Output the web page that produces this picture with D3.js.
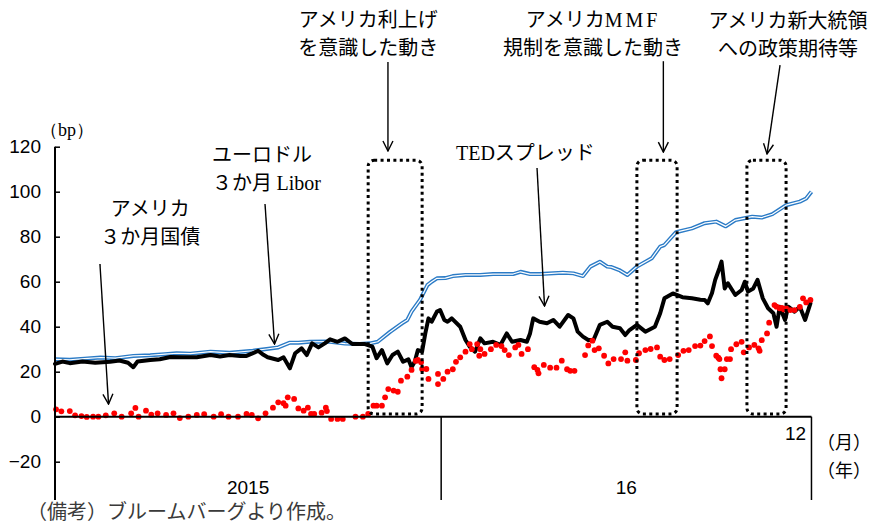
<!DOCTYPE html>
<html><head><meta charset="utf-8">
<script src="https://cdn.jsdelivr.net/npm/d3@7"></script>
<style>
html,body{margin:0;padding:0;background:#fff;}
svg{display:block;}
</style></head>
<body>
<svg id="chart" width="873" height="526"></svg>
<script>
// ---------- DATA (day offsets from 2015-01-01, values in bp) ----------
const liborDays = [0,14,28,43,57,74,90,104,115,128,147,165,187,200,211,222,230,241,258,274,288,298,305,317,328,333,337,345,352,356,361,369,376,388,402,414,425,433,440,449,458,480,490,499,506,515,522,526,534,541,550,564,572,576,587,602,614,625,634,643,659,668,678,691,704,710,715];
const liborValues = [25.5,25.3,25.8,26.3,26.0,27.0,27.3,27.8,28.2,28.0,28.9,28.4,29.3,30.1,30.8,32.9,32.9,33.3,33.4,32.5,32.3,32.6,33.3,37.8,41.5,43.0,46.7,51.9,58.5,60.0,61.5,61.6,62.5,63.0,63.0,63.4,63.4,63.4,64.4,63.4,63.4,64.0,63.7,62.5,66.7,68.9,66.7,66.5,65.0,63.0,66.7,70.4,75.6,76.3,82.0,83.7,86.0,86.7,84.6,87.4,88.9,88.5,90.0,94.0,95.6,97.0,100.0];

const tedDays = [0,7,14,26,38,52,61,69,74,78,90,99,109,121,134,147,156,165,175,181,186,192,197,201,211,216,219,222,227,233,238,243,249,255,260,267,274,281,293,300,304,309,314,319,324,329,334,337,340,343,347,350,353,356,361,364,368,371,375,383,388,392,397,402,406,414,421,427,432,440,446,449,452,458,465,471,477,485,490,494,499,504,509,515,522,527,534,539,543,550,558,567,572,576,584,593,602,610,614,617,621,624,628,630,633,636,643,649,652,655,660,664,669,674,679,682,685,690,693,699,704,709,714];
const tedValues = [23.5,24.5,23.8,24.5,24.0,24.4,25.0,24.0,22.0,24.5,25.2,25.5,26.5,26.4,26.4,27.4,26.8,27.4,27.0,27.0,28.0,29.3,27.5,26.4,25.2,26.4,24.0,21.5,28.2,30.4,27.4,32.6,30.8,32.6,34.4,33.3,34.8,32.3,32.3,31.1,26.0,29.6,23.7,27.4,28.9,24.4,25.5,22.0,24.4,29.6,29.0,37.0,43.7,42.2,46.7,47.4,43.0,42.2,43.7,40.0,34.1,31.1,28.9,34.8,32.6,33.3,31.9,37.0,33.3,34.1,33.3,37.0,43.7,42.2,41.5,43.0,40.0,45.2,43.7,37.8,35.6,34.1,34.1,40.8,42.2,40.0,39.3,36.3,38.5,40.8,37.8,40.0,46.0,52.6,54.8,53.1,52.6,52.0,51.9,50.4,55.0,60.8,66.0,68.9,57.0,59.3,54.1,56.3,60.0,55.6,57.0,60.8,52.6,48.2,46.0,40.0,48.9,43.0,48.9,46.7,48.9,43.0,50.4];

const tbillDays = [1,6,14,19,25,30,36,41,48,56,63,72,76,79,86,91,97,105,112,118,126,134,141,150,157,164,173,181,186,192,199,206,211,216,218,220,226,230,235,239,242,245,252,256,257,261,267,272,284,291,296,301,304,309,312,315,320,324,327,333,337,341,343,346,347,351,353,362,362,367,371,376,379,383,388,392,394,399,401,402,406,412,417,422,425,429,435,438,441,447,453,456,457,462,468,474,479,484,487,491,501,504,508,510,514,519,523,528,535,539,541,549,552,558,563,569,572,576,581,589,594,599,605,610,614,619,621,625,627,628,629,630,633,635,638,639,644,649,651,656,661,665,666,668,673,675,680,682,685,687,689,691,695,699,704,707,710,714];
const tbillValues = [3.3,2.4,2.5,0.6,0.3,-0.1,0,0,0.6,1.5,0,1.5,3.9,0,2.7,0.9,1.5,0.8,1.5,-0.6,0,0.8,1.1,0,1.1,0,0,1.2,0.8,-0.7,1.5,4.0,6.4,6.0,4.9,8.6,7.9,3.7,2.7,4.0,1.2,1.2,1.8,4.0,2.5,-1.0,-1.0,-1.0,0,0,1.2,4.9,4.9,4.9,8.6,12.3,11.6,11.1,16.0,17.8,20.8,24.8,25.2,24.2,21.2,21.2,16.8,19.0,14.5,16.8,20.0,21.1,24.4,26.4,28.9,32.3,30.0,32.3,27.1,30.0,27.9,30.0,31.9,31.4,29.6,27.4,30.8,31.9,27.9,30.0,22.0,20.8,19.3,23.0,21.8,21.8,24.9,21.1,20.4,20.4,27.4,31.7,33.8,29.6,30.4,27.1,23.7,25.6,25.6,28.6,24.9,25.2,28.2,29.6,30.1,30.8,26.7,25.2,25.6,27.4,29.3,29.6,31.4,31.6,33.6,35.7,31.4,27.1,26.2,25.6,21.1,17.1,21.1,25.6,25.6,30.0,32.2,33.3,28.6,30.8,31.9,30.4,29.3,34.0,37.0,41.8,49.6,48.9,48.2,48.4,47.7,48.2,47.4,47.4,48.8,52.6,50.8,51.9];

const yTicks = [-20,0,20,40,60,80,100,120];
const years = [{label:"2015", from:0, to:365},{label:"16", from:365, to:715}];
const monthLabels = [{label:"12", day:700}];
// highlighted periods (day offsets) and value span of their boxes
const periods = [[296,347],[550,588],[654,691]];
const boxSpan = [1.2,114];

// annotations: text lines with anchor point (day, value) and arrows (tail -> tip, day/value)
const notes = [
  {lines:[["アメリカ"],["３か月国債"]], day:90, value:92.2, anchor:"middle"},
  {lines:[["ユーロドル"],["３か月 ",["Libor","serif"]]], day:148.4, value:116.3, anchor:"start"},
  {lines:[[["TED","serif"],"スプレッド"]], day:379, value:117.1, anchor:"start"},
  {lines:[["アメリカ利上げ"],["を意識した動き"]], day:296, value:176.2, anchor:"middle"},
  {lines:[["アメリカ",["MMF","serifwide"]],["規制を意識した動き"]], day:508.5, value:176.2, anchor:"middle"},
  {lines:[["アメリカ新大統領"],["への政策期待等"]], day:692.8, value:175.8, anchor:"middle"}
];
const arrows = [
  [[42.5,67.9],[50.6,5.6]],
  [[198.5,94.5],[207.5,32.3]],
  [[455.6,110.5],[462.7,49.2]],
  [[314.7,157.6],[314.7,118.1]],
  [[575,158],[575,117.6]],
  [[685.3,156.3],[673,116.8]]
];

// ---------- CHART ----------
const svg = d3.select("#chart");
const start = new Date(2015,0,1);
const toDate = d => d3.timeDay.offset(start, Math.floor(d)).getTime() + (d - Math.floor(d))*864e5;
const x = d3.scaleTime().domain([start, new Date(2017,0,1)]).range([55, 828.4]);
const X = d => x(toDate(d));
const y = d3.scaleLinear().domain([-20,120]).range([461.7,146.7]);
const bottomY = 500;
const lastDay = d3.max(liborDays);

const CJK = "'Noto Sans CJK JP','Noto Sans',sans-serif";
const SERIF = "'Liberation Serif','DejaVu Serif',serif";
const SANS = "'Liberation Sans',Arial,sans-serif";

// lines
const line = d3.line().x(d=>X(d[0])).y(d=>y(d[1]));
const libor = liborDays.map((d,i)=>[d, liborValues[i]]);
const ted = tedDays.map((d,i)=>[d, tedValues[i]]);
const tbill = tbillDays.map((d,i)=>[d, tbillValues[i]]);

svg.append("path").datum(libor).attr("d", line).attr("fill","none")
  .attr("stroke","#2b7bc6").attr("stroke-width",4).attr("stroke-linejoin","round");
svg.append("path").datum(libor).attr("d", line).attr("fill","none")
  .attr("stroke","#fff").attr("stroke-width",1.2).attr("stroke-linejoin","round");

svg.append("path").datum(ted).attr("d", line).attr("fill","none")
  .attr("stroke","#000").attr("stroke-width",4).attr("stroke-linejoin","round").attr("stroke-linecap","round");

svg.append("g").selectAll("circle").data(tbill).join("circle")
  .attr("cx", d=>X(d[0])).attr("cy", d=>y(d[1])).attr("r",2.9).attr("fill","#ff0000");

// axes
const yAxis = d3.axisLeft(y).tickValues(yTicks).tickSizeInner(-5).tickSizeOuter(0).tickPadding(14)
  .tickFormat(d => d < 0 ? "\u2212" + Math.abs(d) : d);
const gy = svg.append("g").attr("transform", `translate(${X(0)},0)`).call(yAxis);
gy.select(".domain").remove();
gy.selectAll(".tick line").attr("stroke","#000").attr("stroke-width",1.5);
gy.selectAll(".tick text").attr("font-family",SANS).attr("font-size",19).attr("fill","#000");

svg.append("line").attr("x1",X(0)).attr("x2",X(0)).attr("y1",y(120)).attr("y2",bottomY)
  .attr("stroke","#000").attr("stroke-width",2);
svg.append("line").attr("x1",X(0)).attr("x2",X(lastDay)).attr("y1",y(0)).attr("y2",y(0))
  .attr("stroke","#000").attr("stroke-width",2);
years.forEach(yr => {
  svg.append("line").attr("x1",X(yr.to)).attr("x2",X(yr.to)).attr("y1",y(0)).attr("y2",bottomY)
    .attr("stroke","#000").attr("stroke-width",1.5);
  svg.append("text").attr("x",(X(yr.from)+X(yr.to))/2).attr("y",487).attr("dy","0.35em")
    .attr("text-anchor","middle").attr("font-family",SANS).attr("font-size",19).text(yr.label);
});
monthLabels.forEach(m => {
  svg.append("text").attr("x",X(m.day)).attr("y",433).attr("dy","0.35em")
    .attr("text-anchor","middle").attr("font-family",SANS).attr("font-size",19).text(m.label);
});
svg.append("text").attr("x",817).attr("y",443).attr("dy","0.35em").attr("font-family",CJK)
  .attr("font-size",18).text("（月）");
svg.append("text").attr("x",817).attr("y",471).attr("dy","0.35em").attr("font-family",CJK)
  .attr("font-size",18).text("（年）");
svg.append("text").attr("x",40).attr("y",130).attr("dy","0.35em").attr("font-family",SERIF)
  .attr("font-size",18).text("（bp）");

// highlight boxes
periods.forEach(p => {
  svg.append("rect").attr("x",X(p[0])).attr("y",y(boxSpan[1]))
    .attr("width",X(p[1])-X(p[0])).attr("height",y(boxSpan[0])-y(boxSpan[1]))
    .attr("rx",6).attr("ry",6).attr("fill","none").attr("stroke","#000")
    .attr("stroke-width",3).attr("stroke-dasharray","3,3.4");
});

// arrows
const defs = svg.append("defs");
defs.append("marker").attr("id","ah").attr("viewBox","0 0 12 12").attr("refX",11).attr("refY",6)
  .attr("markerWidth",12).attr("markerHeight",12).attr("markerUnits","userSpaceOnUse").attr("orient","auto")
  .append("path").attr("d","M1,1 L11,6 L1,11").attr("fill","none").attr("stroke","#000").attr("stroke-width",1.4);
arrows.forEach(a => {
  svg.append("line").attr("x1",X(a[0][0])).attr("y1",y(a[0][1])).attr("x2",X(a[1][0])).attr("y2",y(a[1][1]))
    .attr("stroke","#000").attr("stroke-width",1.4).attr("marker-end","url(#ah)");
});

// annotation text
notes.forEach(n => {
  n.lines.forEach((ln,i) => {
    const t = svg.append("text").attr("x",X(n.day)).attr("y",y(n.value)+i*28).attr("dy","0.35em")
      .attr("text-anchor",n.anchor).attr("font-family",CJK).attr("font-size",20).attr("fill","#000");
    ln.forEach(part => {
      if (typeof part === "string") t.append("tspan").text(part);
      else {
        const ts = t.append("tspan").attr("font-family",SERIF).text(part[0]);
        if (part[1] === "serifwide") ts.attr("letter-spacing","3px");
      }
    });
  });
});

// note
svg.append("text").attr("x",27).attr("y",512).attr("dy","0.35em").attr("font-family",CJK)
  .attr("font-size",20).attr("fill","#3a3a3a").text("（備考）ブルームバーグより作成。");
</script>
</body></html>
